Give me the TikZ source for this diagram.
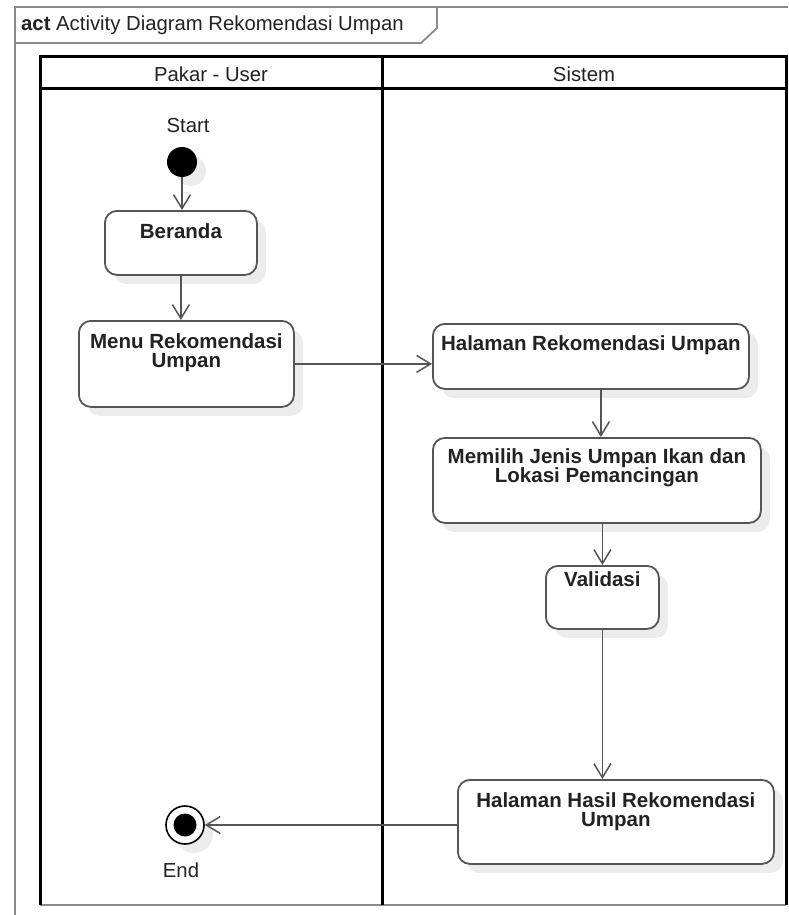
\documentclass[tikz,border=0pt]{standalone}
\usepackage{fontspec}
\setmainfont{Liberation Sans}
\usetikzlibrary{arrows.meta,shadows,calc}
\definecolor{framegray}{HTML}{8A8A8A}
\definecolor{boxgray}{HTML}{555555}
\definecolor{shadowgray}{HTML}{ECECEC}
\definecolor{inkgray}{HTML}{222222}
\tikzset{
  lane/.style={draw=black,line width=3pt},
  frameline/.style={draw=framegray,line width=2.5pt},
  actbox/.style={draw=boxgray,line width=1.8pt,rounded corners=12pt,fill=white,
    drop shadow={shadow xshift=9pt,shadow yshift=-9pt,fill=shadowgray,opacity=1},
    anchor=north west,inner sep=0pt},
  acttext/.style={anchor=north,align=center,text=inkgray,inner sep=0pt,
    font=\fontsize{20.5}{19.5}\selectfont\bfseries},
  lbl/.style={text=inkgray,inner sep=0pt,font=\fontsize{20.3}{20}\selectfont},
  flow/.style={draw=boxgray,line width=1.6pt,
    -{Straight Barb[length=14pt,width=17pt,line width=1.5pt]}},
}
\begin{document}
\begin{tikzpicture}[x=1pt,y=-1pt]
\useasboundingbox (0,0) rectangle (788,915);
\fill[white] (0,0) rectangle (788,915);

% diagram frame with its name tag
\draw[frameline] (15,915) -- (15,7) -- (788,7);
\draw[draw=framegray,line width=1.8pt] (15,43) -- (421,43) -- (437,28) -- (437,7);
\node[lbl,anchor=west] (title) at (21,25) {\textbf{act} Activity Diagram Rekomendasi Umpan};

% swimlanes
\draw[draw=framegray,line width=2.5pt] (40,905) -- (786,905);
\draw[lane] (40,905) -- (40,57) -- (786,57) -- (786,905);
\draw[lane] (40,89) -- (786,89);
\draw[lane] (382,57) -- (382,905);
\node[lbl] (laneA) at (211,74) {Pakar - User};
\node[lbl] (laneB) at (584,74) {Sistem};

% initial node
\node[lbl] (startlbl) at (188,126) {Start};
\node[circle,fill=black,minimum size=30pt,inner sep=0pt,
  drop shadow={shadow xshift=9pt,shadow yshift=-9pt,fill=shadowgray,opacity=1}] (start) at (182,162) {};

% actions
\node[actbox,minimum width=152pt,minimum height=64pt] (beranda) at (104,210) {};
\node[acttext] at ($(beranda.north)+(0,13)$) {Beranda};

\node[actbox,minimum width=215pt,minimum height=86pt] (menu) at (78,320) {};
\node[acttext] at ($(menu.north)+(0,13)$) {Menu Rekomendasi\\Umpan};

\node[actbox,minimum width=316pt,minimum height=65pt] (halaman) at (432,323) {};
\node[acttext] at ($(halaman.north)+(0,12)$) {Halaman Rekomendasi Umpan};

\node[actbox,minimum width=328pt,minimum height=85pt] (memilih) at (432,437) {};
\node[acttext] at ($(memilih.north)+(0,11)$) {Memilih Jenis Umpan Ikan dan\\Lokasi Pemancingan};

\node[actbox,minimum width=113pt,minimum height=63pt] (validasi) at (545,565) {};
\node[acttext] at ($(validasi.north)+(0,6)$) {Validasi};

\node[actbox,minimum width=316pt,minimum height=84pt] (hasil) at (457,779) {};
\node[acttext] at ($(hasil.north)+(0,13)$) {Halaman Hasil Rekomendasi\\Umpan};

% final node
\node[circle,draw=black,line width=1.6pt,fill=white,minimum size=38pt,inner sep=0pt,
  drop shadow={shadow xshift=9pt,shadow yshift=-9pt,fill=shadowgray,opacity=1}] (end) at (185,825) {};
\node[circle,fill=black,minimum size=23pt,inner sep=0pt] (endcore) at (end.center) {};
\node[lbl] (endlbl) at (181,870) {End};

% control flows
\draw[flow] (start.south) -- (start.south |- beranda.north);
\draw[flow] (beranda.south) -- (beranda.south |- menu.north);
\draw[flow] (menu.east) -- (menu.east -| halaman.west);
\draw[flow] ([xshift=10pt]halaman.south) -- ([xshift=10pt]halaman.south |- memilih.north);
\draw[flow] (validasi.north |- memilih.south) -- (validasi.north);
\draw[flow] (validasi.south) -- (validasi.south |- hasil.north);
\draw[flow] (end.east -| hasil.west) -- (end.east);
\end{tikzpicture}
\end{document}
